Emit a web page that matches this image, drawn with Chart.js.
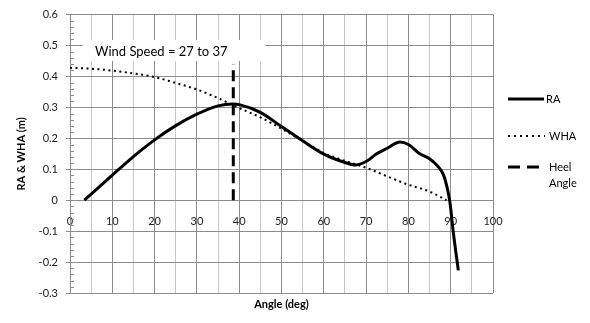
<!DOCTYPE html>
<html>
<head>
<title>RA and WHA vs angle</title>
<script src="https://cdn.jsdelivr.net/npm/chart.js@4.4.0/dist/chart.umd.min.js"></script>
<style>
body {
	margin: 0;
	background: #fff;
}

.chart-container {
	width: 590px;
	height: 323px;
	position: relative;
}
</style>
</head>
<body>
	<div class="chart-container">
		<canvas id="chart"></canvas>
	</div>
	<script>
		// righting arm curve (deg, m)
		const raAngle = [3.4, 10, 15, 20, 25, 30, 35, 38.5, 40, 45, 50, 55, 60, 65, 67.5, 70, 72.5, 75, 78, 80, 82.5, 85, 87, 88.3, 89.2, 89.8, 90.6, 91.8];
		const raValue = [0, 0.081, 0.141, 0.195, 0.241, 0.278, 0.305, 0.311, 0.309, 0.284, 0.238, 0.192, 0.149, 0.122, 0.114, 0.125, 0.15, 0.168, 0.188, 0.18, 0.152, 0.134, 0.109, 0.082, 0.038, -0.005, -0.102, -0.227];

		// wind heeling arm
		const whaAngle = [0, 5, 10, 15, 20, 25, 30, 35, 40, 45, 50, 55, 60, 65, 70, 75, 80, 85, 89];
		const whaValue = [0.428, 0.425, 0.419, 0.41, 0.398, 0.379, 0.358, 0.33, 0.298, 0.268, 0.231, 0.192, 0.153, 0.127, 0.105, 0.077, 0.05, 0.028, 0];

		// heel angle marker
		const heelAngle = [38.6, 38.6];
		const heelValue = [0, 0.44];

		const yTicks = [-0.3, -0.2, -0.1, 0, 0.1, 0.2, 0.3, 0.4, 0.5, 0.6];

		const seriesNames = ['RA', 'WHA', 'Heel Angle'];
		const boxText = 'Wind Speed = 27 to 37';

		const FONT = 'Lato, "Liberation Sans", sans-serif';

		function toPoints(xs, ys) {
			return xs.map((x, i) => ({ x: x, y: ys[i] }));
		}

		const extras = {
			id: 'extras',
			beforeDatasetsDraw(chart) {
				const ctx = chart.ctx;
				ctx.save();
				// white text box over the grid
				ctx.fillStyle = '#fff';
				ctx.fillRect(83, 40, 182, 21);
				ctx.fillStyle = '#000';
				ctx.font = '13px ' + FONT;
				ctx.textBaseline = 'middle';
				ctx.textAlign = 'left';
				ctx.fillText(boxText, 95, 52);

				// minor tick marks on the y axis
				const y = chart.scales.y;
				const left = chart.chartArea.left;
				ctx.strokeStyle = '#8c8c8c';
				ctx.lineWidth = 1;
				for (let i = -15; i <= 30; i++) {
					if (i % 5 === 0) continue;
					const py = Math.round(y.getPixelForValue(i * 0.02)) + 0.5;
					ctx.beginPath();
					ctx.moveTo(left, py);
					ctx.lineTo(left + 4, py);
					ctx.stroke();
				}
				ctx.restore();
			},
			afterDraw(chart) {
				const ctx = chart.ctx;
				const area = chart.chartArea;
				ctx.save();
				// x axis title
				ctx.fillStyle = '#000';
				ctx.font = 'bold 11px ' + FONT;
				ctx.textAlign = 'center';
				ctx.textBaseline = 'middle';
				ctx.fillText('Angle (deg)', (area.left + area.right) / 2, 304);

				// legend
				ctx.font = '11px ' + FONT;
				ctx.textAlign = 'left';
				ctx.strokeStyle = '#000';
				ctx.lineCap = 'butt';

				ctx.lineWidth = 3;
				ctx.setLineDash([]);
				ctx.beginPath();
				ctx.moveTo(508, 99);
				ctx.lineTo(544, 99);
				ctx.stroke();
				ctx.fillText(seriesNames[0], 546, 99);

				ctx.lineWidth = 2;
				ctx.setLineDash([2, 4]);
				ctx.beginPath();
				ctx.moveTo(508, 136);
				ctx.lineTo(545, 136);
				ctx.stroke();
				ctx.fillText(seriesNames[1], 549, 136);

				ctx.lineWidth = 3;
				ctx.setLineDash([12, 7]);
				ctx.beginPath();
				ctx.moveTo(508, 167);
				ctx.lineTo(546, 167);
				ctx.stroke();
				const heelWords = seriesNames[2].split(' ');
				ctx.fillText(heelWords[0], 549, 167);
				ctx.fillText(heelWords[1], 549, 183);
				ctx.restore();
			}
		};

		const ctx = document.getElementById('chart').getContext('2d');
		const myChart = new Chart(ctx, {
			type: 'scatter',
			data: {
				datasets: [
					{
						label: seriesNames[0],
						data: toPoints(raAngle, raValue),
						showLine: true,
						borderColor: '#000',
						borderWidth: 3,
						pointRadius: 0,
						cubicInterpolationMode: 'monotone'
					},
					{
						label: seriesNames[1],
						data: toPoints(whaAngle, whaValue),
						showLine: true,
						borderColor: '#000',
						borderWidth: 2,
						borderDash: [2, 3.5],
						pointRadius: 0,
						cubicInterpolationMode: 'monotone'
					},
					{
						label: seriesNames[2],
						data: toPoints(heelAngle, heelValue),
						showLine: true,
						borderColor: '#000',
						borderWidth: 3,
						borderDash: [11, 6],
						pointRadius: 0,
						tension: 0
					}
				]
			},
			options: {
				responsive: true,
				maintainAspectRatio: false,
				animation: false,
				layout: {
					padding: { left: 0, right: 97, top: 13, bottom: 30 }
				},
				plugins: {
					legend: { display: false },
					tooltip: { enabled: false }
				},
				scales: {
					x: {
						type: 'linear',
						position: { y: 0 },
						min: 0,
						max: 100,
						ticks: {
							stepSize: 5,
							autoSkip: false,
							maxRotation: 0,
							padding: 11,
							color: '#222',
							font: { family: FONT, size: 11 },
							callback: (v) => (v % 10 === 0 ? String(v) : '')
						},
						grid: {
							color: (c) => (c.tick && c.tick.value % 10 === 0 ? '#8c8c8c' : '#c8c8c8'),
							tickLength: 4,
							drawTicks: true
						},
						border: { color: '#8c8c8c' }
					},
					y: {
						min: -0.3,
						max: 0.6,
						afterBuildTicks: (scale) => {
							scale.ticks = yTicks.map(v => ({ value: v }));
						},
						afterFit: (scale) => {
							scale.width = 70;
						},
						ticks: {
							padding: 8,
							color: '#222',
							font: { family: FONT, size: 11 },
							callback: (v) => String(Math.round(v * 10) / 10)
						},
						grid: {
							color: '#8c8c8c',
							tickLength: 4
						},
						border: { color: '#8c8c8c' },
						title: {
							display: true,
							text: 'RA & WHA (m)',
							color: '#000',
							font: { family: FONT, size: 11, weight: 'bold' },
							padding: { top: 15, bottom: 0 }
						}
					}
				}
			},
			plugins: [extras]
		});
	</script>
</body>
</html>
